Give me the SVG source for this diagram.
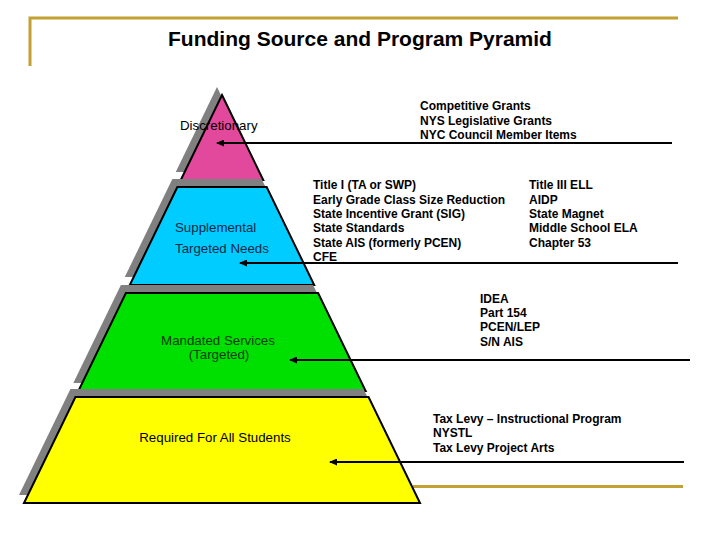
<svg xmlns="http://www.w3.org/2000/svg" width="720" height="540" viewBox="0 0 720 540">
<defs>
<style>
.gold{stroke:#C4A032;stroke-width:3;fill:none}
.shadow{fill:#808080}
.tier{stroke:#000;stroke-width:2;stroke-linejoin:miter}
.lbl{font-family:"Liberation Sans",Arial,sans-serif;font-size:13.3px}
.src{font-family:"Liberation Sans",Arial,sans-serif;font-size:12px;font-weight:bold;fill:#000}
.title{font-family:"Liberation Sans",Arial,sans-serif;font-size:21px;font-weight:bold;fill:#000}
.conn{stroke:#000;stroke-width:2;fill:none;marker-end:url(#ah)}
</style>
<marker id="ah" markerUnits="userSpaceOnUse" markerWidth="8" markerHeight="7" refX="7" refY="3.5" orient="auto">
<path d="M0,0 L8,3.5 L0,7 z" fill="#000"/>
</marker>
</defs>
<rect width="720" height="540" fill="#fff"/>
<g id="frame">
<path class="gold" d="M30,66 L30,18 L678,18"/>
<path class="gold" d="M413,486.5 L683,486.5"/>
</g>
<text class="title" x="360" y="46" text-anchor="middle">Funding Source and Program Pyramid</text>
<g id="tier-discretionary">
<polygon class="shadow" points="217,87 258.25,172 175.75,172"/>
<polygon fill="#E2489B" points="222,95 263.25,180 180.75,180"/>
<text class="lbl" x="180" y="130" fill="#000">Discretionary</text>
<polygon class="tier" fill="none" points="222,95 263.25,180 180.75,180"/>
</g>
<g id="tier-supplemental">
<polygon class="shadow" points="172.35,179 261.65,179 309.2,277 124.8,277"/>
<polygon class="tier" fill="#00CCFF" points="177.35,187 266.65,187 314.2,285 129.8,285"/>
<text class="lbl" x="175" y="232" fill="#0A2845">Supplemental</text>
<text class="lbl" x="175" y="252.5" fill="#0A2845">Targeted Needs</text>
</g>
<g id="tier-mandated">
<polygon class="shadow" points="120.9,285 313.1,285 360.65,383 73.35,383"/>
<polygon class="tier" fill="#00E000" points="125.9,293 318.1,293 365.65,391 78.35,391"/>
<text class="lbl" x="218" y="345" text-anchor="middle" fill="#0A3A0A">Mandated Services</text>
<text class="lbl" x="219" y="358.5" text-anchor="middle" fill="#0A3A0A">(Targeted)</text>
</g>
<g id="tier-required">
<polygon class="shadow" points="70.44,389 363.56,389 415,495 19,495"/>
<polygon class="tier" fill="#FFFF00" points="75.44,397 368.56,397 420,503 24,503"/>
<text class="lbl" x="215" y="441.5" text-anchor="middle" fill="#000">Required For All Students</text>
</g>
<g id="sources-discretionary">
<text class="src" x="420" y="110">Competitive Grants</text>
<text class="src" x="420" y="124.7">NYS Legislative Grants</text>
<text class="src" x="420" y="139.3">NYC Council Member Items</text>
</g>
<g id="sources-supplemental">
<text class="src" x="313" y="189.3">Title I (TA or SWP)</text>
<text class="src" x="313" y="203.6">Early Grade Class Size Reduction</text>
<text class="src" x="313" y="218">State Incentive Grant (SIG)</text>
<text class="src" x="313" y="232.3">State Standards</text>
<text class="src" x="313" y="246.6">State AIS (formerly PCEN)</text>
<text class="src" x="313" y="260.8">CFE</text>
<text class="src" x="529" y="189.3">Title III ELL</text>
<text class="src" x="529" y="203.6">AIDP</text>
<text class="src" x="529" y="218">State Magnet</text>
<text class="src" x="529" y="232.3">Middle School ELA</text>
<text class="src" x="529" y="246.6">Chapter 53</text>
</g>
<g id="sources-mandated">
<text class="src" x="480" y="302.7">IDEA</text>
<text class="src" x="480" y="317">Part 154</text>
<text class="src" x="480" y="331.3">PCEN/LEP</text>
<text class="src" x="480" y="345.6">S/N AIS</text>
</g>
<g id="sources-required">
<text class="src" x="433" y="422.7">Tax Levy – Instructional Program</text>
<text class="src" x="433" y="437.2">NYSTL</text>
<text class="src" x="433" y="451.7">Tax Levy Project Arts</text>
</g>
<g id="connectors">
<line class="conn" x1="672" y1="143" x2="217" y2="143"/>
<line class="conn" x1="678" y1="263" x2="240" y2="263"/>
<line class="conn" x1="690" y1="360" x2="290" y2="360"/>
<line class="conn" x1="684" y1="462" x2="330" y2="462"/>
</g>
</svg>
